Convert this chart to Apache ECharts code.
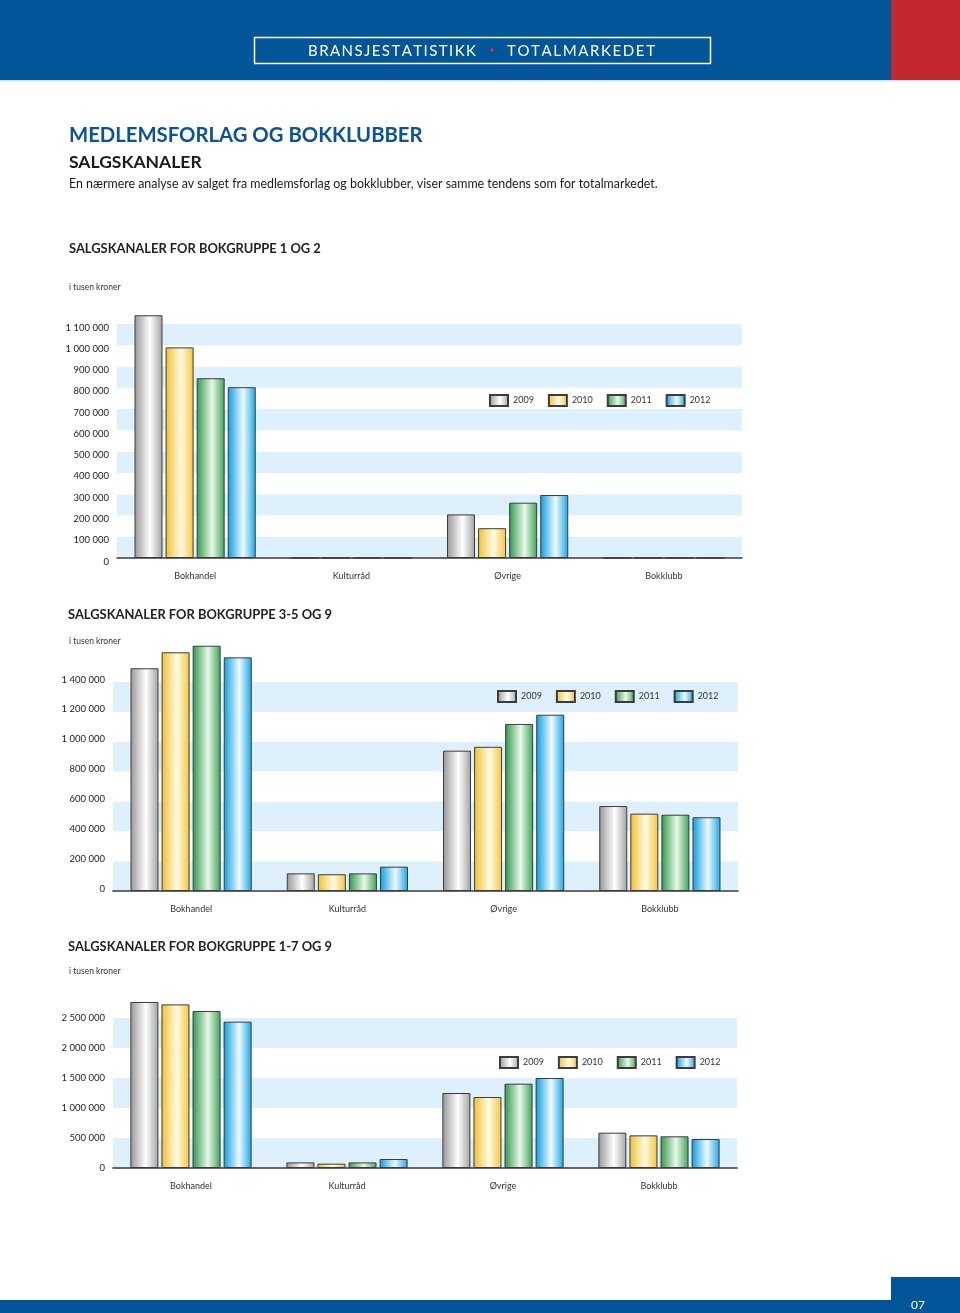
<!DOCTYPE html>
<html>
<head>
<meta charset="utf-8">
<script src="https://cdn.jsdelivr.net/npm/echarts@6/dist/echarts.min.js"></script>
<style>
html,body{margin:0;padding:0;background:#fff;}
#main{width:960px;height:1313px;}
</style>
</head>
<body>
<div id="main"></div>
<script>
// ---- DATA ----
const categories = ['Bokhandel', 'Kulturråd', 'Øvrige', 'Bokklubb'];
const years = ['2009', '2010', '2011', '2012'];

// Chart 1: Bokgruppe 1 og 2
const g1_2009 = [1141000, 0, 205000, 0];
const g1_2010 = [990000, 0, 140000, 0];
const g1_2011 = [845000, 0, 260000, 0];
const g1_2012 = [803000, 0, 296000, 0];

// Chart 2: Bokgruppe 3-5 og 9
const g2_2009 = [1492000, 118000, 940000, 569000];
const g2_2010 = [1599000, 112000, 966000, 518000];
const g2_2011 = [1643000, 118000, 1119000, 511000];
const g2_2012 = [1565000, 163000, 1181000, 494000];

// Chart 3: Bokgruppe 1-7 og 9
const g3_2009 = [2767000, 93000, 1250000, 589000];
const g3_2010 = [2727000, 72000, 1183000, 544000];
const g3_2011 = [2617000, 93000, 1405000, 528000];
const g3_2012 = [2439000, 150000, 1500000, 483000];

// y-axis scales
const yMax = [1100000, 1400000, 2500000];
const yInterval = [100000, 200000, 500000];

const chartTitles = [
  'SALGSKANALER FOR BOKGRUPPE 1 OG 2',
  'SALGSKANALER FOR BOKGRUPPE 3-5 OG 9',
  'SALGSKANALER FOR BOKGRUPPE 1-7 OG 9'
];
const unitLabel = 'i tusen kroner';

// ---- STYLE ----
const FONT = 'Lato, "Open Sans", sans-serif';
function grad(a, b, c) {
  return {type: 'linear', x: 0, y: 0, x2: 1, y2: 0,
    colorStops: [{offset: 0, color: a}, {offset: 0.55, color: b}, {offset: 1, color: c}]};
}
const yearColors = [
  grad('#979797', '#ffffff', '#a2a2a2'),
  grad('#f1bf2f', '#fffbe4', '#f4c53a'),
  grad('#2e994a', '#eaf7ea', '#3aa555'),
  grad('#0a9edf', '#eefaff', '#19a6e6')
];

const grids = [
  {left: 117, top: 324, width: 625, height: 234},
  {left: 113, top: 682, width: 625, height: 209},
  {left: 113, top: 1018, width: 624, height: 150}
];
const labelVAlign = [
  {verticalAlign: 'top', lineHeight: 7},
  {verticalAlign: 'bottom', lineHeight: 5},
  {verticalAlign: 'middle', lineHeight: 12}
];
const legendPos = [
  {left: 489, top: 394},
  {left: 497, top: 690},
  {left: 499, top: 1056}
];
const seriesData = [
  [g1_2009, g1_2010, g1_2011, g1_2012],
  [g2_2009, g2_2010, g2_2011, g2_2012],
  [g3_2009, g3_2010, g3_2011, g3_2012]
];

function fmt(v) { return String(v).replace(/\B(?=(\d{3})+(?!\d))/g, ' '); }

const xAxis = [], yAxis = [], series = [], legend = [];
grids.forEach((g, i) => {
  xAxis.push({
    type: 'category', gridIndex: i, data: categories,
    axisLine: {lineStyle: {color: '#3a3a3a', width: 1.6}},
    axisTick: {show: false},
    axisLabel: {color: '#333', fontSize: 9, fontFamily: FONT, margin: 14}
  });
  yAxis.push({
    type: 'value', gridIndex: i, min: 0, max: yMax[i], interval: yInterval[i],
    axisLine: {show: false}, axisTick: {show: false},
    splitLine: {show: false},
    splitArea: {show: true, areaStyle: {color: ['#ddf0fb', '#ffffff']}},
    axisLabel: Object.assign({color: '#222', fontSize: 9.5, fontFamily: FONT, margin: 8, formatter: fmt}, labelVAlign[i])
  });
  years.forEach((y, k) => {
    series.push({
      type: 'bar', name: y, xAxisIndex: i, yAxisIndex: i,
      data: seriesData[i][k], barWidth: 28, barGap: '11%', clip: false,
      itemStyle: {color: yearColors[k], borderColor: '#3c3c3c', borderWidth: 1},
      emphasis: {disabled: true}, animation: false
    });
  });
  legend.push({
    data: years, left: legendPos[i].left, top: legendPos[i].top, padding: 0,
    itemWidth: 18, itemHeight: 11, itemGap: 14, icon: 'rect',
    textStyle: {color: '#333', fontSize: 9, fontFamily: FONT}
  });
});

function txt(x, y, text, font, fill, align) {
  return {type: 'text', silent: true, style: {x, y, text, font, fill: fill || '#222',
    textAlign: align || 'left', textVerticalAlign: 'middle', verticalAlign: 'middle'}};
}
// letter-spaced text fitted to a target width
const mctx = document.createElement('canvas').getContext('2d');
function spaced(x, y, str, font, fill, targetW) {
  mctx.font = font;
  const chars = str.split('');
  const widths = chars.map(c => mctx.measureText(c).width);
  const total = widths.reduce((a, b) => a + b, 0);
  const sp = (targetW - total) / (chars.length - 1);
  const out = [];
  let cx = x;
  chars.forEach((c, k) => {
    out.push(txt(cx, y, c, font, fill));
    cx += widths[k] + sp;
  });
  return out;
}

const graphic = [
  // header
  {type: 'rect', silent: true, shape: {x: 0, y: 0, width: 891, height: 80}, style: {fill: '#03559a'}},
  {type: 'rect', silent: true, shape: {x: 891, y: 0, width: 69, height: 80}, style: {fill: '#c1272d'}},
  {type: 'rect', silent: true, shape: {x: 0, y: 80, width: 960, height: 1.5}, style: {fill: '#cfe3f3'}},
  {type: 'rect', silent: true, shape: {x: 254.5, y: 37.5, width: 456, height: 26}, style: {fill: 'none', stroke: '#ffffff', lineWidth: 1.5}},
  ...spaced(308, 51, 'BRANSJESTATISTIKK', '15px ' + FONT, '#ffffff', 168),
  {type: 'circle', silent: true, shape: {cx: 492, cy: 50, r: 1.8}, style: {fill: '#e0323a'}},
  ...spaced(507, 51, 'TOTALMARKEDET', '15px ' + FONT, '#ffffff', 148),
  // headings
  txt(69, 135, 'MEDLEMSFORLAG OG BOKKLUBBER', 'bold 20.3px ' + FONT, '#0b529c'),
  txt(69, 162, 'SALGSKANALER', 'bold 17.5px ' + FONT, '#1a1a1a'),
  txt(69, 184, 'En nærmere analyse av salget fra medlemsforlag og bokklubber, viser samme tendens som for totalmarkedet.', '12.4px ' + FONT, '#1a1a1a'),
  // chart titles
  txt(69, 249, chartTitles[0], 'bold 12.9px ' + FONT, '#222'),
  txt(69, 287, unitLabel, '8.5px ' + FONT, '#333'),
  txt(68, 615, chartTitles[1], 'bold 12.9px ' + FONT, '#222'),
  txt(69, 641, unitLabel, '8.5px ' + FONT, '#333'),
  txt(68, 947, chartTitles[2], 'bold 12.9px ' + FONT, '#222'),
  txt(69, 971, unitLabel, '8.5px ' + FONT, '#333'),
  // footer
  {type: 'rect', silent: true, shape: {x: 0, y: 1300, width: 960, height: 13}, style: {fill: '#03559a'}},
  {type: 'rect', silent: true, shape: {x: 891, y: 1277, width: 69, height: 36}, style: {fill: '#03559a'}},
  txt(918, 1305, '07', '12px ' + FONT, '#ffffff', 'center')
];

const chart = echarts.init(document.getElementById('main'), null, {renderer: 'canvas'});
chart.setOption({
  animation: false,
  backgroundColor: '#ffffff',
  grid: grids,
  xAxis, yAxis, series, legend, graphic
});
</script>
</body>
</html>
